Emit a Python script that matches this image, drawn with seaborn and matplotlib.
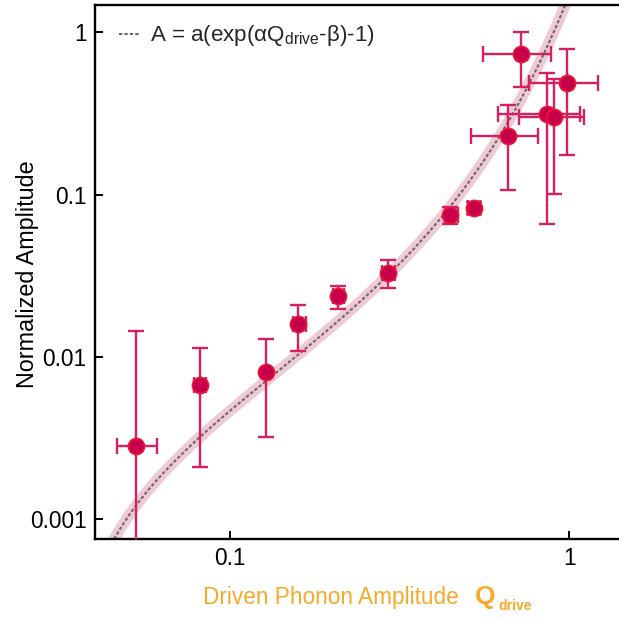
import numpy as np
import pandas as pd
import matplotlib
matplotlib.use("Agg")
import matplotlib.pyplot as plt
import seaborn as sns
from matplotlib.ticker import FixedLocator, FixedFormatter, NullLocator
from matplotlib.lines import Line2D

# ---------------- data ----------------
q_drive   = [0.0527, 0.0815, 0.1279, 0.159, 0.2088, 0.2919, 0.4446, 0.525, 0.659, 0.719, 0.859, 0.899, 0.986]
amplitude = [0.00283, 0.00675, 0.00812, 0.0160, 0.0237, 0.0331, 0.0749, 0.0824, 0.2317, 0.734, 0.316, 0.301, 0.489]
q_low     = [0.0463, 0.0784, 0.1279, 0.1538, 0.2007, 0.2812, 0.430, 0.503, 0.512, 0.556, 0.618, 0.711, 0.763]
q_high    = [0.0608, 0.0849, 0.1279, 0.1673, 0.2172, 0.3057, 0.470, 0.545, 0.808, 0.883, 1.078, 1.108, 1.213]
amp_low   = [0.0005, 0.0021, 0.00323, 0.01084, 0.0198, 0.0266, 0.0659, 0.0761, 0.107, 0.462, 0.0665, 0.101, 0.176]
amp_high  = [0.01456, 0.01143, 0.0130, 0.0210, 0.0276, 0.0398, 0.0836, 0.0901, 0.355, 1.0, 0.563, 0.519, 0.796]

# fit parameters of A = a(exp(alpha*Q - beta) - 1)
fit_a, fit_alpha, fit_beta = 0.0112, 5.2, 0.1716

x_ticks = [0.1, 1]
x_tick_labels = ["0.1", "1"]
y_ticks = [0.001, 0.01, 0.1, 1]
y_tick_labels = ["0.001", "0.01", "0.1", "1"]

legend_label = "A = a(exp(αQ$_{\\mathregular{drive}}$-β)-1)"
xlabel_main = "Driven Phonon Amplitude"
xlabel_q = "Q"
xlabel_sub = "drive"
ylabel = "Normalized Amplitude"

# ---------------- style ----------------
sns.set_theme(style="white")
plt.rcParams["font.family"] = ["Liberation Sans", "DejaVu Sans"]
plt.rcParams["mathtext.fontset"] = "custom"
plt.rcParams["mathtext.rm"] = "Liberation Sans"
plt.rcParams["mathtext.it"] = "Liberation Sans:italic"
plt.rcParams["mathtext.bf"] = "Liberation Sans:bold"

W = 619
fig = plt.figure(figsize=(6.19, 6.19), dpi=100)
ax = fig.add_axes([95 / W, 1 - 539 / W, (W - 95) / W, (539 - 5) / W])
ax.set_xscale("log")
ax.set_yscale("log")

# fit curve
q_fit = np.geomspace(0.0336, 1.6, 500)
a_fit = fit_a * (np.exp(fit_alpha * q_fit - fit_beta) - 1)
fit_df = pd.DataFrame({"Q": q_fit, "A": a_fit})
sns.lineplot(data=fit_df, x="Q", y="A", ax=ax, color="#efc3d3", lw=8, alpha=0.9,
             estimator=None, sort=False, legend=False, zorder=2, solid_capstyle="butt")
sns.lineplot(data=fit_df, x="Q", y="A", ax=ax, color="#6a6a6a", lw=1.5,
             estimator=None, sort=False, legend=False, zorder=2.5)
ax.lines[-1].set_linestyle((0, (1.6, 1.0)))

# error bars
q = np.array(q_drive); A = np.array(amplitude)
xerr = [q - np.array(q_low), np.array(q_high) - q]
yerr = [A - np.array(amp_low), np.array(amp_high) - A]
ax.errorbar(q, A, xerr=xerr, yerr=yerr, fmt="none", ecolor="#d81f62",
            elinewidth=1.7, capsize=5.5, capthick=1.7, zorder=3)

# markers
pts = pd.DataFrame({"Q": q_drive, "A": amplitude})
sns.scatterplot(data=pts, x="Q", y="A", ax=ax, s=135, color="#c8004c",
                edgecolor="#e8183a", linewidth=1.2, zorder=5, legend=False)

ax.set_xlim(0.0400, 1.402)
ax.set_ylim(7.57e-4, 1.477)

ax.xaxis.set_major_locator(FixedLocator(x_ticks))
ax.xaxis.set_major_formatter(FixedFormatter(x_tick_labels))
ax.xaxis.set_minor_locator(NullLocator())
ax.yaxis.set_major_locator(FixedLocator(y_ticks))
ax.yaxis.set_major_formatter(FixedFormatter(y_tick_labels))
ax.yaxis.set_minor_locator(NullLocator())
ax.tick_params(axis="both", which="major", direction="in", length=6, width=1.4,
               color="black", labelcolor="black", labelsize=16.4, pad=6,
               bottom=True, left=True, top=False, right=False)

for side in ["left", "bottom", "top"]:
    ax.spines[side].set_visible(True)
    ax.spines[side].set_color("black")
    ax.spines[side].set_linewidth(1.7)
ax.spines["right"].set_visible(False)

ax.set_xlabel("")
ax.set_ylabel(ylabel, fontsize=16.8, color="black")
ax.yaxis.set_label_coords((39 - 95) / (W - 95), 0.495)

# legend
handle = Line2D([], [], color="#6a6a6a", lw=1.5, linestyle=(0, (1.6, 1.0)))
ax.legend([handle], [legend_label], loc="center left",
          bbox_to_anchor=(119 / W, 1 - 36 / W), bbox_transform=fig.transFigure,
          frameon=False, fontsize=16.1, handlelength=0.95, handletextpad=0.45,
          borderpad=0, borderaxespad=0)

# x label (orange, with bold Q_drive)
orange = "#f7a928"
fig.text(203 / W, 15 / W, xlabel_main, color=orange, fontsize=16.3, ha="left", va="baseline")
fig.text(475 / W, 15 / W, xlabel_q, color=orange, fontsize=19, fontweight="bold", ha="left", va="baseline")
fig.text(498 / W, 9 / W, xlabel_sub, color=orange, fontsize=10, fontweight="bold", ha="left", va="baseline")

fig.savefig("out.png", dpi=100)
